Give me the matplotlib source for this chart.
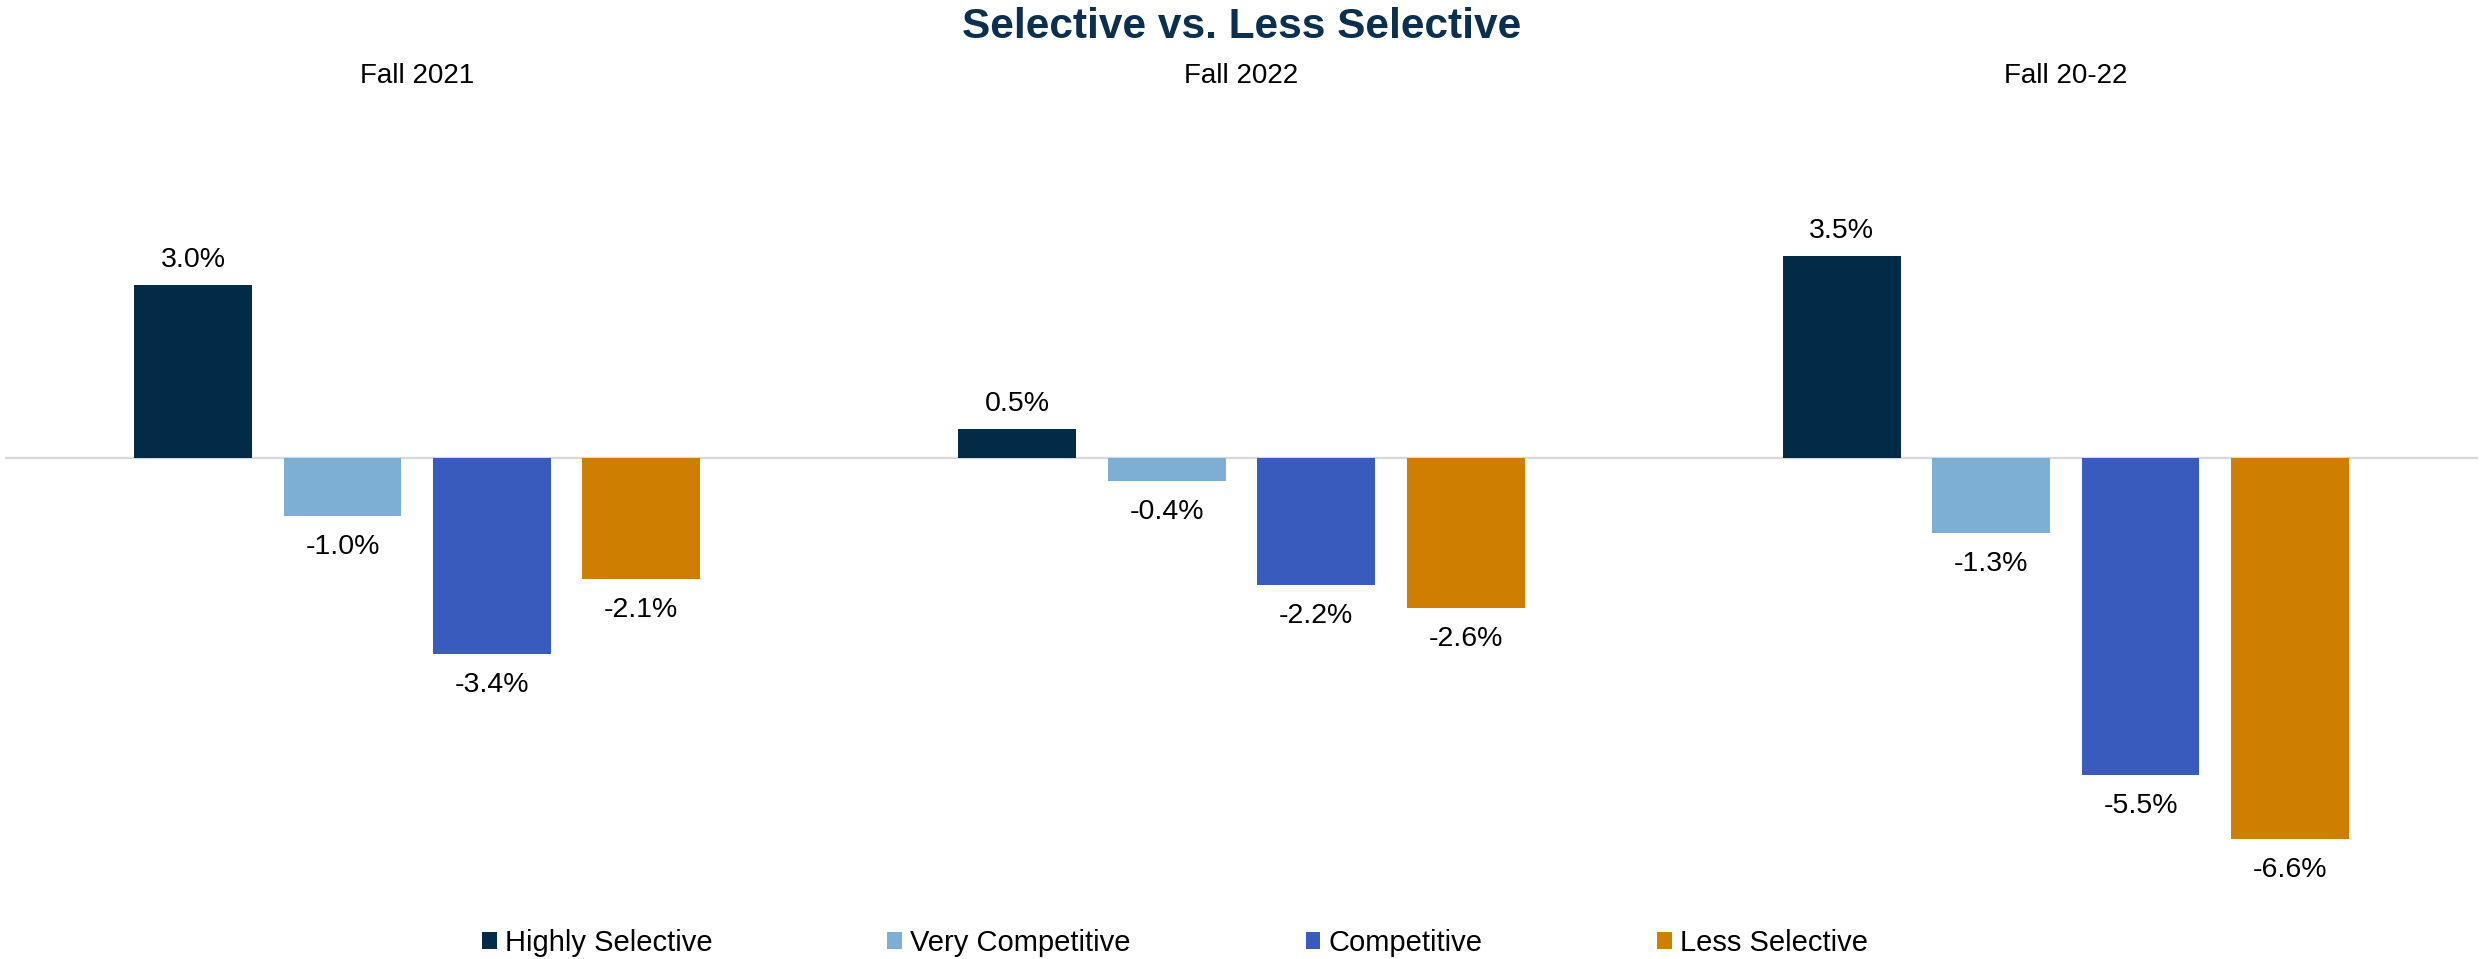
import matplotlib
matplotlib.use("Agg")
from matplotlib import pyplot as plt
from matplotlib.patches import Patch
import numpy as np

plt.rcParams['font.family'] = ['Liberation Sans', 'DejaVu Sans']

periods = ["Fall 2021", "Fall 2022", "Fall 20-22"]
groups = ["Highly Selective", "Very Competitive", "Competitive", "Less Selective"]
colors = ["#022B48", "#7DAFD5", "#3A5BBE", "#CE7E00"]

highly_selective = [3.0, 0.5, 3.5]
very_competitive = [-1.0, -0.4, -1.3]
competitive = [-3.4, -2.2, -5.5]
less_selective = [-2.1, -2.6, -6.6]
series = [highly_selective, very_competitive, competitive, less_selective]

W, H = 2483, 959
fig = plt.figure(figsize=(W / 100, H / 100), dpi=100)

# plot area in pixels: x 5..2478, y 120..880 from the top, zero line at 458
top_px, bot_px, zero_px, px_per_pct = 120, 880, 458, 57.7
ax = fig.add_axes([5 / W, 1 - bot_px / H, 2473 / W, (bot_px - top_px) / H])
ax.set_xlim(-0.5, 2.5)
ax.set_ylim(-(bot_px - zero_px) / px_per_pct, (zero_px - top_px) / px_per_pct)
ax.axis("off")

ax.axhline(0, color="#D9D9D9", lw=1.7, zorder=1)

x = np.arange(len(periods))
pitch = 0.1813
width = 0.143
for i, (name, vals, c) in enumerate(zip(groups, series, colors)):
    xs = x + (i - 1.5) * pitch
    ax.bar(xs, vals, width=width, color=c, zorder=2)
    for xi, v in zip(xs, vals):
        if v >= 0:
            ax.annotate(f"{v:.1f}%", (xi, v), xytext=(0, 13), textcoords="offset points",
                        ha="center", va="baseline", fontsize=20.5, color="black")
        else:
            ax.annotate(f"{v:.1f}%", (xi, v), xytext=(0, -13), textcoords="offset points",
                        ha="center", va="top", fontsize=20.5, color="black")

# period labels above each cluster
for xi, p in zip(x, periods):
    xf = (5 + (xi + 0.5) / 3 * 2473) / W
    fig.text(xf, 1 - 76 / H, p, ha="center", va="center", fontsize=20, color="black")

fig.text(1242 / W, 1 - 27 / H, "Selective vs. Less Selective", ha="center", va="center",
         fontsize=30.5, fontweight="bold", color="#0B2F4E")

handles = [Patch(facecolor=c, edgecolor="none", label=g) for g, c in zip(groups, colors)]
fig.legend(handles=handles, loc="center", bbox_to_anchor=(1175 / W, 1 - 943 / H), ncol=4,
           frameon=False, fontsize=21, handlelength=0.51, handleheight=0.51,
           handletextpad=0.27, columnspacing=6.0, borderpad=0, borderaxespad=0)

plt.savefig("out.png", dpi=100)
